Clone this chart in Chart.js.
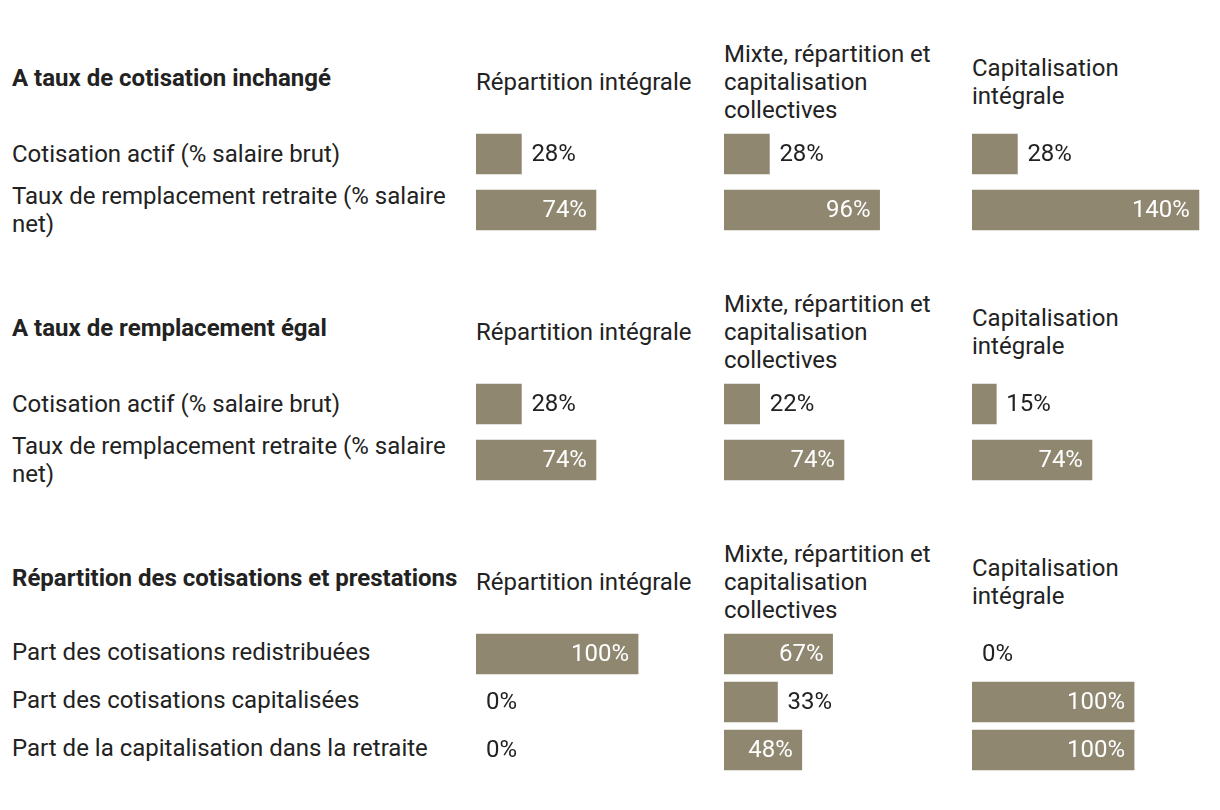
<!DOCTYPE html>
<html lang="fr">
<head>
<meta charset="utf-8">
<script src="https://cdn.jsdelivr.net/npm/chart.js@4"></script>
<style>
  html, body { margin: 0; padding: 0; background: #fff; }
  body { width: 1220px; height: 810px; position: relative; overflow: hidden;
         font-family: Roboto, "Noto Sans", sans-serif; color: #222; }
  .txt { position: absolute; font-size: 24px; line-height: 28px; transform: translateY(-50%); }
  .heading { font-weight: bold; white-space: nowrap; }
  .colhead { width: 222px; }
  .rowlab { width: 450px; }
  .cell { position: absolute; width: 248px; }
</style>
</head>
<body>
<script>
// Column headers (same for every block)
const columns = ['Répartition intégrale', 'Mixte, répartition et capitalisation collectives', 'Capitalisation intégrale'];

// Block headings
const headings = ['A taux de cotisation inchangé', 'A taux de remplacement égal', 'Répartition des cotisations et prestations'];

// Row labels per block
const rows1 = ['Cotisation actif (% salaire brut)', 'Taux de remplacement retraite (% salaire net)'];
const rows2 = ['Cotisation actif (% salaire brut)', 'Taux de remplacement retraite (% salaire net)'];
const rows3 = ['Part des cotisations redistribuées', 'Part des cotisations capitalisées', 'Part de la capitalisation dans la retraite'];

// Values (%) : one array per column, in row order
const block1 = [[28, 74], [28, 96], [28, 140]];
const block2 = [[28, 74], [22, 74], [15, 74]];
const block3 = [[100, 0, 0], [67, 33, 48], [0, 100, 100]];

const blocks = [
    { rows: rows1, values: block1 },
    { rows: rows2, values: block2 },
    { rows: rows3, values: block3 }
];

const barColor = '#8f8770';
const colX = [476, 724, 972];
const xMax = 153;        // same % scale for every cell
const blockTop = [0, 250, 500];

function addText(cls, text, left, centerY) {
    const d = document.createElement('div');
    d.className = 'txt ' + cls;
    d.textContent = text;
    d.style.left = left + 'px';
    d.style.top = centerY + 'px';
    document.body.appendChild(d);
}

// value labels: white inside the bar when it is wide enough, dark after it otherwise
const valueLabels = {
    id: 'valueLabels',
    afterDatasetsDraw(chart) {
        const ctx = chart.ctx;
        const meta = chart.getDatasetMeta(0);
        const data = chart.data.datasets[0].data;
        ctx.save();
        ctx.font = '24px Roboto';
        ctx.textBaseline = 'middle';
        meta.data.forEach((bar, i) => {
            const v = data[i];
            const label = v + '%';
            if (v >= 40) {
                ctx.fillStyle = '#ffffff';
                ctx.textAlign = 'right';
                ctx.fillText(label, bar.x - 9, bar.y + 1);
            } else {
                ctx.fillStyle = '#222';
                ctx.textAlign = 'left';
                ctx.fillText(label, bar.x + 10, bar.y + 1);
            }
        });
        ctx.restore();
    }
};

blocks.forEach((block, b) => {
    const top = blockTop[b];
    const step = block.rows.length === 3 ? 48 : 56;
    const firstCenter = block.rows.length === 3 ? 152 : 154;

    addText('heading', headings[b], 12, top + 78);
    columns.forEach((c, i) => addText('colhead', c, colX[i], top + 82));

    block.rows.forEach((r, i) => {
        addText('rowlab', r, 12, top + firstCenter + i * step);
    });

    block.values.forEach((vals, c) => {
        const wrap = document.createElement('div');
        wrap.className = 'cell';
        wrap.style.left = colX[c] + 'px';
        wrap.style.top = (top + firstCenter - step / 2 + (block.rows.length === 3 ? 2 : 0)) + 'px';
        wrap.style.height = (step * block.rows.length) + 'px';
        const canvas = document.createElement('canvas');
        wrap.appendChild(canvas);
        document.body.appendChild(wrap);

        new Chart(canvas, {
            type: 'bar',
            data: {
                labels: block.rows,
                datasets: [{
                    data: vals,
                    backgroundColor: vals.map(v => v > 0 ? barColor : 'rgba(0,0,0,0)'),
                    borderWidth: 0,
                    barThickness: 40
                }]
            },
            options: {
                indexAxis: 'y',
                responsive: true,
                maintainAspectRatio: false,
                animation: false,
                layout: { padding: 0 },
                scales: {
                    x: { display: false, min: 0, max: xMax },
                    y: { display: false }
                },
                plugins: {
                    legend: { display: false },
                    tooltip: { enabled: false }
                }
            },
            plugins: [valueLabels]
        });
    });
});
</script>
</body>
</html>
